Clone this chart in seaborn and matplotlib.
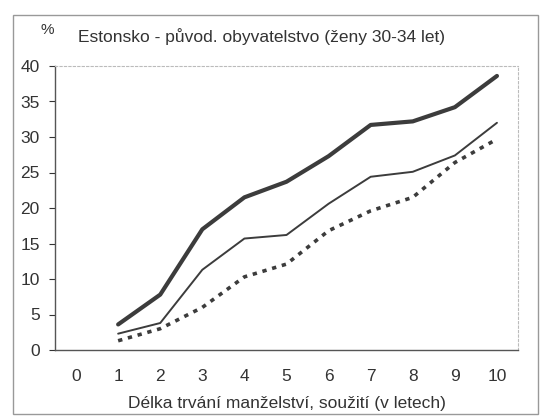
import seaborn as sns
import matplotlib.pyplot as plt
import pandas as pd
from matplotlib.patches import Rectangle

# data
roky = [1, 2, 3, 4, 5, 6, 7, 8, 9, 10]
rada_silna = [3.6, 7.8, 17.0, 21.5, 23.7, 27.3, 31.7, 32.2, 34.2, 38.6]
rada_tenka = [2.3, 3.8, 11.3, 15.7, 16.2, 20.6, 24.4, 25.1, 27.4, 32.0]
rada_teckovana = [1.3, 3.0, 6.0, 10.3, 12.1, 16.8, 19.6, 21.5, 26.4, 29.7]
x_popisky = [str(i) for i in range(0, 11)]

sns.set_style("white")
plt.rcParams['font.family'] = ['Liberation Sans', 'DejaVu Sans']

fig = plt.figure(figsize=(5.4, 4.16), dpi=100)
ax = fig.add_axes([55/540, 66/416, 463/540, 284/416])

df = pd.DataFrame({'rok': roky, 'silna': rada_silna,
                   'tenka': rada_tenka, 'teckovana': rada_teckovana})

sns.lineplot(data=df, x='rok', y='silna', ax=ax, color='#3c3c3c', linewidth=3.0)
sns.lineplot(data=df, x='rok', y='tenka', ax=ax, color='#3c3c3c', linewidth=1.4)
sns.lineplot(data=df, x='rok', y='teckovana', ax=ax, color='#3c3c3c',
             linewidth=2.6, linestyle=(0, (1.2, 1.6)))

ax.set_xlim(-0.5, 10.5)
ax.set_ylim(0, 40)
ax.set_xticks(range(0, 11))
ax.set_xticklabels(x_popisky)
ax.set_xticks([i - 0.5 for i in range(0, 12)], minor=True)
ax.set_yticks(range(0, 41, 5))
ax.tick_params(axis='x', which='major', length=0, labelsize=12.5, pad=14, colors='#333333')
ax.tick_params(axis='x', which='minor', length=4, direction='inout', color='#555555')
ax.tick_params(axis='y', length=4, direction='out', left=True, labelsize=12.5,
               pad=7, colors='#333333')
ax.set_xlabel('Délka trvání manželství, soužití (v letech)', fontsize=12.5,
              color='#333333', labelpad=8)
ax.set_ylabel('')

for s in ['left', 'bottom']:
    ax.spines[s].set_color('#555555')
    ax.spines[s].set_linewidth(1.0)
for s in ['top', 'right']:
    ax.spines[s].set_color('#bbbbbb')
    ax.spines[s].set_linestyle((0, (2, 2)))
    ax.spines[s].set_linewidth(0.8)

fig.text(47/540, 1 - 30/416, '%', fontsize=11, color='#333333', va='center', ha='center')
fig.text(78/540, 1 - 37/416, 'Estonsko - původ. obyvatelstvo (ženy 30-34 let)',
         fontsize=12.5, color='#333333', va='center', ha='left')

fig.patches.append(Rectangle((13/540, 2/416), 525/540, 399/416,
                             transform=fig.transFigure, fill=False,
                             edgecolor='#999999', linewidth=1.0))

fig.savefig('out.png', dpi=100)
